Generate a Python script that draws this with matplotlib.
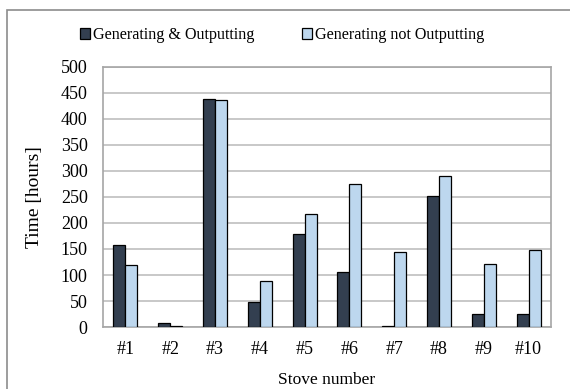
import matplotlib.pyplot as plt
import numpy as np
from matplotlib.patches import Rectangle

plt.rcParams["font.family"] = ["Liberation Serif", "DejaVu Serif"]

stoves = ["#1", "#2", "#3", "#4", "#5", "#6", "#7", "#8", "#9", "#10"]
gen_out = [158, 7, 438, 48, 179, 105, 1, 252, 25, 25]
gen_not_out = [120, 2, 437, 88, 217, 275, 145, 291, 122, 148]

DARK = "#333f50"
LIGHT = "#bdd7ee"

fig = plt.figure(figsize=(5.7, 3.89), dpi=100)
ax = fig.add_axes([103 / 570, 1 - 327 / 389, 448 / 570, 260 / 389])

x = np.arange(len(stoves))
w = 0.27
ax.bar(x - w / 2, gen_out, w, color=DARK, edgecolor="black", linewidth=0.9,
       label="Generating & Outputting", zorder=3)
ax.bar(x + w / 2, gen_not_out, w, color=LIGHT, edgecolor="black", linewidth=0.9,
       label="Generating not Outputting", zorder=3)

ax.set_xlim(-0.5, len(stoves) - 0.5)
ax.set_ylim(0, 500)
ax.set_yticks(range(0, 501, 50))
ax.set_xticks(x)
ax.set_xticklabels(stoves)
ax.tick_params(axis="both", length=0, labelsize=13)
ax.tick_params(axis="x", pad=10)
ax.tick_params(axis="y", pad=11)
ax.grid(axis="y", color="#bfbfbf", linewidth=1.2, zorder=0)
for s in ax.spines.values():
    s.set_color("#a6a6a6")
    s.set_linewidth(1.2)

ax.set_ylabel("Time [hours]", fontsize=14)
ax.yaxis.set_label_coords(-60 / 448, 0.5)
ax.set_xlabel("Stove number", fontsize=12.5, labelpad=10.5)

fig.legend(loc="center", bbox_to_anchor=(0.495, 1 - 35 / 389), ncol=2, frameon=False,
           fontsize=11.6, handlelength=0.65, handleheight=0.65, handletextpad=0.2,
           columnspacing=2.9)

fig.patches.append(Rectangle((7 / 570, -0.1), 1.2, 1 - 10 / 389 + 0.1,
                             transform=fig.transFigure, fill=False,
                             edgecolor="#8c8c8c", linewidth=1.2))

fig.savefig("out.png", dpi=100)
